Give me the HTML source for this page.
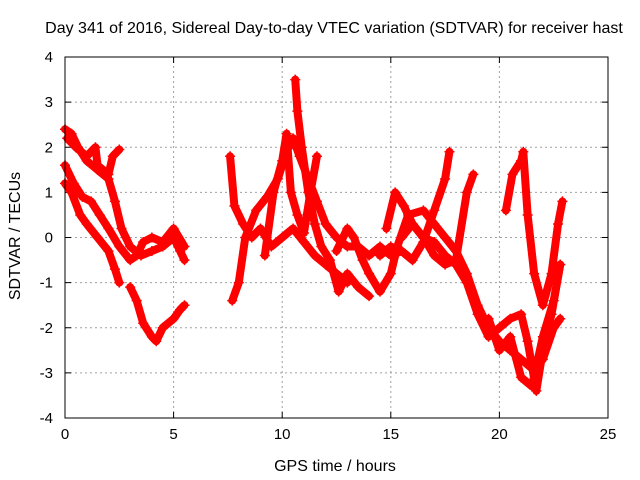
<!DOCTYPE html>
<html><head><meta charset="utf-8"><style>
body{margin:0;background:#fff}
svg{display:block;font-family:"Liberation Sans",sans-serif;font-size:16px}
</style></head><body>
<svg id="chart" width="640" height="480">
<text x="334" y="33" text-anchor="middle">Day 341 of 2016, Sidereal Day-to-day VTEC variation (SDTVAR) for receiver hast</text>
<g id="grid"></g>
<g id="ticks"></g>
<g id="series"></g>
<rect x="65" y="57" width="543" height="361" fill="none" stroke="#000"/>
<text x="335" y="471" text-anchor="middle">GPS time / hours</text>
<text transform="translate(20,236) rotate(-90)" text-anchor="middle">SDTVAR / TECUs</text>
</svg>
<script>
const xTicks=[0,5,10,15,20,25];
const yTicks=[-4,-3,-2,-1,0,1,2,3,4];
const trackA=[[0,2.4],[0.3,2.3],[0.6,2.0],[1.0,1.7],[1.5,1.5],[2.0,1.3],[2.3,0.8],[2.6,0.2],[3.0,-0.2],[3.5,-0.4],[4.0,-0.3],[4.5,-0.2],[5.0,0.0],[5.3,-0.3],[5.5,-0.5]];
const trackB=[[0,1.2],[0.3,1.0],[0.7,0.5],[1.0,0.3],[1.5,0.0],[2.0,-0.3],[2.3,-0.7],[2.5,-1.0]];
const trackC=[[0,1.6],[0.4,1.2],[0.8,0.9],[1.2,0.8],[1.6,0.5],[2.0,0.2],[2.5,-0.2],[3.0,-0.5],[3.3,-0.4],[3.6,-0.1],[4.0,0.0],[4.5,-0.1],[5.0,0.2],[5.5,-0.2]];
const trackD=[[0.1,2.2],[0.5,2.0],[1.0,1.8],[1.4,2.0],[1.5,1.6],[2.0,1.4],[2.2,1.8],[2.5,1.95]];
const trackE=[[3.0,-1.1],[3.3,-1.4],[3.6,-1.9],[4.0,-2.2],[4.2,-2.3],[4.5,-2.0],[5.0,-1.8],[5.3,-1.6],[5.5,-1.5]];
const trackF=[[7.6,1.8],[7.8,0.7],[8.2,0.3],[8.6,0.0],[9.0,0.2],[9.5,-0.2],[10,0.0],[10.5,0.2],[11,-0.1],[11.5,-0.4],[12,-0.6],[12.5,-0.8],[13,-1.0]];
const trackG=[[7.7,-1.4],[8.0,-1.0],[8.3,0.0],[8.8,0.6],[9.3,0.9],[9.8,1.3],[10.2,1.9],[10.5,2.2],[10.8,1.8],[11.2,1.3],[11.6,0.8],[12,0.3],[12.5,0.0],[13,-0.2],[13.5,-0.2],[14,-0.4],[14.5,-0.2],[15,-0.4],[15.5,-0.3],[16,-0.5]];
const trackH=[[10.6,3.5],[10.7,2.8],[10.9,2.0],[11.2,1.0],[11.5,0.3],[11.8,-0.2],[12.2,-0.5],[12.6,-1.2],[13,-0.8],[13.5,-1.1],[14,-1.3]];
const trackI=[[9.2,-0.4],[9.6,1.0],[10,1.7],[10.2,2.3],[10.4,1.0],[10.7,0.5],[11,0.1],[11.3,1.0],[11.6,1.8]];
const trackJ=[[12.5,-0.3],[13,0.2],[13.3,0.0],[13.7,-0.5],[14,-0.8],[14.5,-1.2],[15,-0.8],[15.3,-0.2],[15.8,0.5],[16.5,0.6],[17,0.3],[17.5,0.0],[18,-0.3],[18.5,-0.8],[19,-1.5],[19.5,-2.0],[20,-2.3],[20.5,-2.5],[21,-2.7],[21.5,-2.9],[22,-2.7],[22.5,-2.0],[22.8,-1.8]];
const trackK=[[14.8,0.2],[15.2,1.0],[15.6,0.7],[16,0.3],[16.5,0.0],[17,-0.1],[17.5,-0.4],[18,-0.6],[18.5,-1.0],[19,-1.7],[19.5,-2.2],[20,-2.0],[20.5,-1.8],[21,-1.7],[21.3,-2.3],[21.7,-3.4],[22,-2.5],[22.4,-1.7],[22.8,-0.6]];
const trackL=[[14.5,-0.4],[15,-0.2],[15.5,-0.3],[16,-0.5],[16.5,-0.1],[17,0.6],[17.5,1.3],[17.7,1.9]];
const trackM=[[15.5,0.0],[16,0.3],[16.5,0.0],[17,-0.4],[17.5,-0.6],[18,-0.5],[18.5,1.0],[18.8,1.4]];
const trackN=[[20.3,0.6],[20.6,1.4],[21,1.7],[21.1,1.9],[21.3,0.5],[21.6,-0.8],[22,-1.5],[22.4,-0.8],[22.7,0.3],[22.9,0.8]];
const trackO=[[19.5,-1.8],[20,-2.5],[20.5,-2.2],[21,-3.1],[21.5,-3.3],[22,-2.2],[22.5,-1.4],[22.8,-0.6]];
const tracks=[trackA,trackB,trackC,trackD,trackE,trackF,trackG,trackH,trackI,trackJ,trackK,trackL,trackM,trackN,trackO];

const NS='http://www.w3.org/2000/svg';
const X0=65,X1=608,Y0=418,Y1=57;
const xs=v=>X0+(v-0)/(25-0)*(X1-X0);
const ys=v=>Y0-(v+4)/8*(Y0-Y1);
function mk(tag,attrs,parent){const e=document.createElementNS(NS,tag);for(const k in attrs)e.setAttribute(k,attrs[k]);parent.appendChild(e);return e;}
const grid=document.getElementById('grid'),ticks=document.getElementById('ticks'),series=document.getElementById('series');
xTicks.forEach(t=>{
  const x=xs(t);
  if(t>0&&t<25){const g=mk('line',{x1:x,x2:x,y1:Y0,y2:Y1,stroke:'#a0a0a0','stroke-dasharray':'2,3'},grid);
    
    }
  mk('line',{x1:x,x2:x,y1:Y0,y2:Y0-6,stroke:'#000'},ticks);
  mk('line',{x1:x,x2:x,y1:Y1,y2:Y1+6,stroke:'#000'},ticks);
  const l=mk('text',{x:x,y:Y0+21,'text-anchor':'middle','font-size':15},ticks);l.textContent=t;
  
  
});
yTicks.forEach(t=>{
  const y=ys(t);
  if(t>-4&&t<4){const g=mk('line',{x1:X0,x2:X1,y1:y,y2:y,stroke:'#a0a0a0','stroke-dasharray':'2,3'},grid);
    
    }
  mk('line',{x1:X0,x2:X0+6,y1:y,y2:y,stroke:'#000'},ticks);
  mk('line',{x1:X1,x2:X1-6,y1:y,y2:y,stroke:'#000'},ticks);
  const l=mk('text',{x:X0-12,y:y+5,'text-anchor':'end','font-size':15},ticks);l.textContent=t;
  
  
});
tracks.forEach((tr,i)=>{
  const p=mk('polyline',{points:tr.map(d=>xs(d[0])+','+ys(d[1])).join(' '),fill:'none',stroke:'#ff0000','stroke-width':8,'stroke-linejoin':'round','stroke-linecap':'round'},series);
  
  
  tr.forEach(d=>{
    const x=xs(d[0]),y=ys(d[1]);
    const m=mk('path',{d:`M${x-5},${y}H${x+5}M${x},${y-5}V${y+5}`,stroke:'#ff0000','stroke-width':1.5},series);
    
    
  });
});
</script>
</body></html>
